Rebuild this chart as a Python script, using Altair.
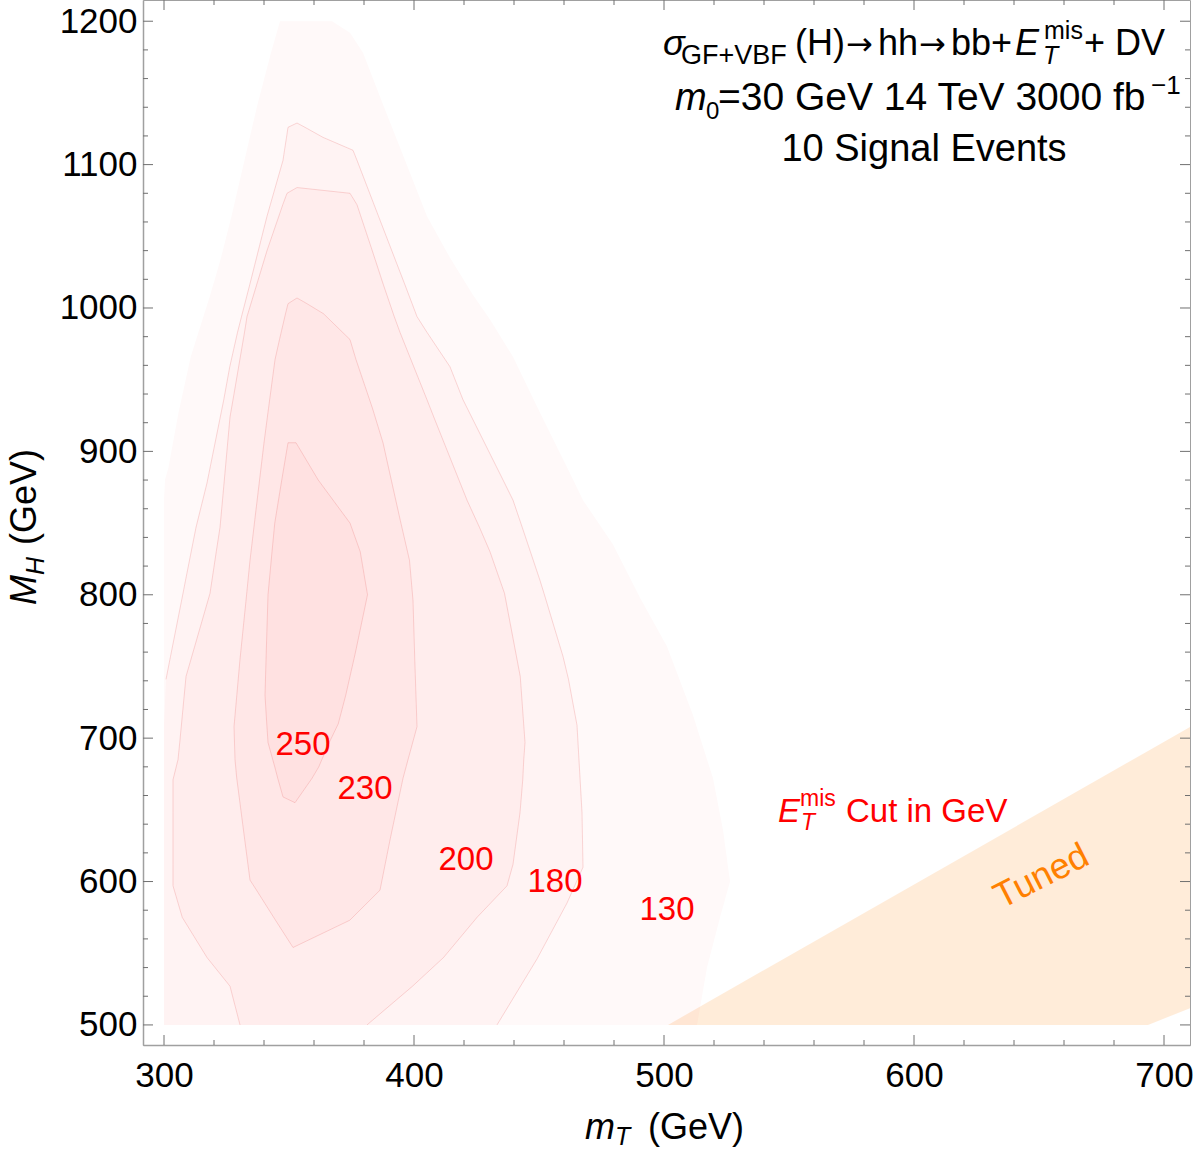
import altair as alt
import pandas as pd

W, H = 1047, 1045
FONT = "Liberation Sans"

# ---------------- data ----------------
X_MAJOR = [300, 400, 500, 600, 700]
X_MINOR = [320, 340, 360, 380, 420, 440, 460, 480, 520, 540, 560, 580,
           620, 640, 660, 680]
Y_MAJOR = [500, 600, 700, 800, 900, 1000, 1100, 1200]
Y_MINOR = [520, 540, 560, 580, 620, 640, 660, 680, 720, 740, 760, 780,
           820, 840, 860, 880, 920, 940, 960, 980, 1020, 1040, 1060, 1080,
           1120, 1140, 1160, 1180]

# contour regions (E_T^mis cut level): rows of M_H with left / right m_T bound
MH_130 = [500, 540, 575, 600, 636, 672, 716, 764, 798, 835, 866, 880, 889, 927,
          966, 992, 1009, 1035, 1064, 1103, 1142, 1178, 1192, 1200]
L_130 = [300, 300, 300, 300, 300, 300, 300, 300, 300, 300, 300, 300.4, 301.8,
         305.8, 310.7, 315.4, 318.5, 322.8, 327.0, 332.2, 337.4, 342.8, 345.1, 346.4]
R_130 = [513.2, 517.2, 522.4, 526.4, 523.6, 519.6, 511.6, 501.2, 490.4, 479.6,
         467.6, 463.7, 461.2, 450.4, 439.6, 430.4, 423.6, 414.4, 405.2, 396.4,
         387.6, 379.6, 374.4, 367.2]

MH_180 = [500, 546, 585, 610, 648, 709, 741, 757, 801, 810, 847, 866, 878, 936,
          959, 983, 994, 1017, 1064, 1103, 1110, 1119, 1126, 1129]
L_180 = [300, 300, 300, 300, 300, 300, 300.8, 302.6, 307.6, 308.6, 312.8, 315.5,
         317.2, 323.9, 326.3, 329.4, 331.0, 334.4, 341.2, 347.6, 348.2, 349.0,
         349.6, 353.2]
R_180 = [433.2, 449.2, 461.2, 467.6, 467.2, 465.2, 461.8, 459.6, 452.0, 450.4,
         443.3, 439.6, 436.2, 419.6, 414.4, 405.2, 401.2, 396.2, 385.8, 377.2,
         375.6, 363.6, 356.4, 353.2]

MH_200 = [500, 527, 547, 575, 597, 612, 648, 671, 685, 697, 743, 801, 830, 847,
          866, 924, 936, 983, 994, 1017, 1040, 1072, 1080, 1084]
L_200 = [330.4, 326.4, 317.2, 307.3, 303.6, 303.6, 303.6, 303.6, 305.6, 306.3,
         308.8, 318.4, 320.9, 322.4, 323.4, 326.4, 327.6, 332.2, 333.2, 337.2,
         341.2, 347.5, 349.2, 353.2]
R_200 = [381.2, 399.4, 411.8, 425.2, 437.2, 439.6, 442.4, 443.5, 443.9, 444.4,
         442.5, 436.2, 430.4, 426.2, 421.2, 407.9, 405.2, 394.4, 392.1, 387.6,
         383.3, 377.2, 374.4, 353.2]

MH_230 = [554, 573, 594, 601, 629, 672, 685, 708, 755, 796, 824, 852, 906, 930,
          964, 978, 996, 1003, 1007]
L_230 = [351.6, 344.6, 337.0, 334.4, 332.3, 329.1, 328.4, 328.0, 330.4, 332.8,
         334.4, 336.3, 340.0, 341.8, 344.4, 346.2, 348.6, 349.6, 353.2]
R_230 = [351.6, 374.3, 386.4, 387.2, 390.4, 395.6, 397.6, 401.2, 400.3, 399.6,
         398.2, 394.5, 387.6, 383.4, 376.8, 374.4, 363.8, 357.2, 353.2]

MH_250 = [655, 659, 672, 680, 697, 710, 730, 760, 800, 830, 850, 880, 906]
L_250 = [352.4, 347.6, 345.5, 344.3, 341.6, 341.1, 340.4, 340.9, 341.6, 343.2,
         344.3, 347.1, 349.6]
R_250 = [352.4, 354.0, 359.2, 361.9, 366.1, 369.7, 372.7, 376.6, 381.4, 378.5,
         374.4, 361.7, 352.8]

CONTOURS = {130: (MH_130, L_130, R_130), 180: (MH_180, L_180, R_180),
            200: (MH_200, L_200, R_200), 230: (MH_230, L_230, R_230),
            250: (MH_250, L_250, R_250)}
STROKED = [180, 200, 230, 250]

# "Tuned" band
TUNED_MT = [501.6, 693.6, 720.0]
TUNED_UP = [500.0, 691.1, 717.3]
TUNED_LO = [500.0, 500.0, 518.3]

LEVEL_LABELS = ["250", "230", "200", "180", "130"]
LEVEL_LABEL_MT = [355.6, 380.4, 420.8, 456.4, 501.2]
LEVEL_LABEL_MH = [695.3, 664.5, 615.1, 599.7, 580.2]

# ---------------- scales / axes ----------------
xs = alt.Scale(domain=[291.6, 710.4], nice=False, zero=False)
ys = alt.Scale(domain=[486.0, 1214.8], nice=False, zero=False)
xaxis = alt.Axis(values=X_MAJOR, format="d", labelFontSize=35, labelFont=FONT,
                 labelColor="black", ticks=False, tickSize=0, labelPadding=13,
                 domainColor="#a0a0a0", domainWidth=1.5, grid=False,
                 labelFlush=False, labelOverlap=False)
yaxis = alt.Axis(values=Y_MAJOR, format="d", labelFontSize=35, labelFont=FONT,
                 labelColor="black", ticks=False, tickSize=0, labelPadding=6,
                 domainColor="#a0a0a0", domainWidth=1.5, grid=False,
                 labelFlush=False, labelOverlap=False)


def X(field):
    return alt.X(field, type="quantitative", scale=xs, axis=xaxis, title=None)


def Y(field):
    return alt.Y(field, type="quantitative", scale=ys, axis=yaxis, title=None)


# ---------------- build tables ----------------
area_rows = []
for lev, (mh, lft, rgt) in CONTOURS.items():
    for a, b, c in zip(mh, lft, rgt):
        area_rows.append({"level": lev, "MH": a, "L": b, "R": c})
area_df = pd.DataFrame(area_rows)

line_rows = []
for lev in STROKED:
    mh, lft, rgt = CONTOURS[lev]
    pts = [(b, a) for a, b in zip(mh, lft) if b > 300]
    pts += [(c, a) for a, c in reversed(list(zip(mh, rgt)))]
    for i, (x, y) in enumerate(pts):
        line_rows.append({"level": lev, "mT": x, "MH": y, "ord": i})
line_df = pd.DataFrame(line_rows)

tuned_df = pd.DataFrame({"mT": TUNED_MT, "up": TUNED_UP, "lo": TUNED_LO})
lab_df = pd.DataFrame({"t": LEVEL_LABELS, "mT": LEVEL_LABEL_MT, "MH": LEVEL_LABEL_MH})

layers = []

layers.append(alt.Chart(tuned_df).mark_area(clip=True, color="#ff8000", opacity=0.15).encode(
    x=X("mT"), y=Y("up"), y2=alt.Y2("lo")))

layers.append(alt.Chart(area_df).mark_area(orient="horizontal", color="#ff3030",
                                            fillOpacity=0.028, strokeWidth=0).encode(
    y=Y("MH"), x=X("L"), x2=alt.X2("R"), detail="level:N"))

layers.append(alt.Chart(line_df).mark_line(color="#e86a6a", strokeWidth=1,
                                            strokeOpacity=0.25).encode(
    x=X("mT"), y=Y("MH"), order="ord:Q", detail="level:N"))

TICK = "#707070"


def xt(vals, y0, y1):
    return alt.Chart(pd.DataFrame({"v": vals})).mark_rule(color=TICK, strokeWidth=1).encode(
        x=X("v"), y=alt.value(y0), y2=alt.value(y1))


def yt(vals, x0, x1):
    return alt.Chart(pd.DataFrame({"v": vals})).mark_rule(color=TICK, strokeWidth=1).encode(
        y=Y("v"), x=alt.value(x0), x2=alt.value(x1))


layers += [xt(X_MAJOR, H, H - 10), xt(X_MINOR, H, H - 5),
           xt(X_MAJOR, 0, 10), xt(X_MINOR, 0, 5),
           yt(Y_MAJOR, 0, 10), yt(Y_MINOR, 0, 5),
           yt(Y_MAJOR, W, W - 10), yt(Y_MINOR, W, W - 5)]

layers.append(alt.Chart(lab_df).mark_text(font=FONT, fontSize=33, color="#ff0000",
                                           baseline="middle", align="center").encode(
    x=X("mT"), y=Y("MH"), text="t:N"))


def txt(x, y, s, size, color="black", italic=False, align="left", dx=0, dy=0,
        angle=0, px=False, font=FONT):
    d = pd.DataFrame({"x": [x], "y": [y], "t": [s]})
    kw = dict(font=font, fontSize=size, color=color, align=align, baseline="alphabetic",
              dx=dx, dy=dy)
    if italic:
        kw["fontStyle"] = "italic"
    if angle:
        kw["angle"] = angle
    m = alt.Chart(d).mark_text(**kw)
    if px:
        return m.encode(x=alt.value(x), y=alt.value(y), text="t:N")
    return m.encode(x=X("x"), y=Y("y"), text="t:N")


# title block (anchor in data coordinates, pieces offset in pixels)
L1 = (499.6, 1176.4)
L2 = (504.4, 1138.1)
L3 = (604.0, 1102.5)
layers += [
    txt(*L1, "σ", 36, italic=True),
    txt(*L1, "GF+VBF", 27, dx=18, dy=9),
    txt(*L1, "(H)", 36, dx=132),
    txt(*L1, "→", 32, dx=183, font="DejaVu Sans"),
    txt(*L1, "hh", 36, dx=215),
    txt(*L1, "→", 32, dx=256, font="DejaVu Sans"),
    txt(*L1, "bb+", 36, dx=288),
    txt(*L1, "E", 36, italic=True, dx=352),
    txt(*L1, "mis", 25, dx=381, dy=-16),
    txt(*L1, "T", 25, italic=True, dx=380, dy=9),
    txt(*L1, "+ DV", 36, dx=421),
    txt(*L2, "m", 38, italic=True),
    txt(*L2, "0", 24, dx=31, dy=9),
    txt(*L2, "=30 GeV 14 TeV 3000 fb", 39, dx=43),
    txt(*L2, "−1", 26, dx=476, dy=-16),
    txt(*L3, "10 Signal Events", 38, align="center"),
]

# E_T^mis cut annotation
A = (545.6, 641.6)
layers += [
    txt(*A, "E", 33, color="#ff0000", italic=True),
    txt(*A, "mis", 23, color="#ff0000", dx=22, dy=-16),
    txt(*A, "T", 23, color="#ff0000", italic=True, dx=23, dy=8),
    txt(*A, "Cut in GeV", 33, color="#ff0000", dx=68),
]

# Tuned label
tuned_lab = pd.DataFrame({"x": [651.0], "y": [603.5], "t": ["Tuned"]})
layers.append(alt.Chart(tuned_lab).mark_text(font=FONT, fontSize=36, color="#ff8000",
                                              angle=333, align="center",
                                              baseline="middle").encode(
    x=X("x"), y=Y("y"), text="t:N"))

# axis titles (pixel positions relative to the plot area)
layers += [
    txt(442, 1139, "m", 36, italic=True, px=True),
    txt(472, 1145, "T", 25, italic=True, px=True),
    txt(505, 1139, "(GeV)", 36, px=True),
    txt(-107, 605, "M", 36, italic=True, angle=270, px=True),
    txt(-99, 575, "H", 25, italic=True, angle=270, px=True),
    txt(-107, 545, "(GeV)", 36, angle=270, px=True),
]

chart = alt.layer(*layers).properties(
    width=W, height=H,
    padding={"left": 143, "top": 0, "right": 10, "bottom": 105},
    autosize=alt.AutoSizeParams(type="none"),
).configure_view(stroke="#a0a0a0", strokeWidth=1)

chart.save("out.html", embed_options={"renderer": "svg", "actions": False})
